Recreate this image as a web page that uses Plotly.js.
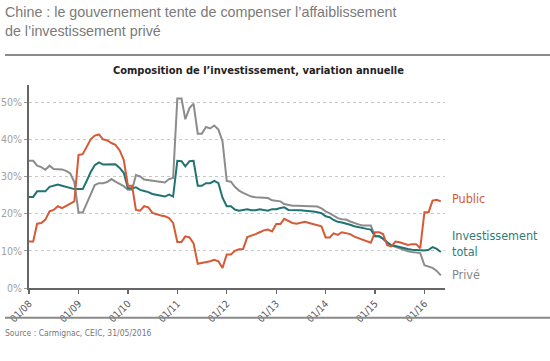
<!DOCTYPE html>
<html>
<head>
<meta charset="utf-8">
<script src="https://cdn.plot.ly/plotly-3.0.1.min.js"></script>
<style>
html,body{margin:0;padding:0;background:#fff;}
#chart{width:550px;height:361px;}
</style>
</head>
<body>
<div id="chart"></div>
<script>
// Monthly dates Jan 2008 -> May 2016
var months = [
 '2008-01-01','2008-02-01','2008-03-01','2008-04-01','2008-05-01','2008-06-01','2008-07-01','2008-08-01','2008-09-01','2008-10-01','2008-11-01','2008-12-01',
 '2009-01-01','2009-02-01','2009-03-01','2009-04-01','2009-05-01','2009-06-01','2009-07-01','2009-08-01','2009-09-01','2009-10-01','2009-11-01','2009-12-01',
 '2010-01-01','2010-02-01','2010-03-01','2010-04-01','2010-05-01','2010-06-01','2010-07-01','2010-08-01','2010-09-01','2010-10-01','2010-11-01','2010-12-01',
 '2011-01-01','2011-02-01','2011-03-01','2011-04-01','2011-05-01','2011-06-01','2011-07-01','2011-08-01','2011-09-01','2011-10-01','2011-11-01','2011-12-01',
 '2012-01-01','2012-02-01','2012-03-01','2012-04-01','2012-05-01','2012-06-01','2012-07-01','2012-08-01','2012-09-01','2012-10-01','2012-11-01','2012-12-01',
 '2013-01-01','2013-02-01','2013-03-01','2013-04-01','2013-05-01','2013-06-01','2013-07-01','2013-08-01','2013-09-01','2013-10-01','2013-11-01','2013-12-01',
 '2014-01-01','2014-02-01','2014-03-01','2014-04-01','2014-05-01','2014-06-01','2014-07-01','2014-08-01','2014-09-01','2014-10-01','2014-11-01','2014-12-01',
 '2015-01-01','2015-02-01','2015-03-01','2015-04-01','2015-05-01','2015-06-01','2015-07-01','2015-08-01','2015-09-01','2015-10-01','2015-11-01','2015-12-01',
 '2016-01-01','2016-02-01','2016-03-01','2016-04-01','2016-05-01'
];

var publicInv = [
 12.5,12.5,17.3,17.5,18.4,20.6,21.0,22.0,21.5,22.0,22.7,23.3,
 35.8,36.0,38.0,40.0,41.0,41.3,40.0,39.7,39.0,38.5,37.0,34.5,
 27.5,27.5,21.0,20.8,22.0,21.7,20.2,19.8,19.5,19.3,18.8,17.5,
 12.4,12.4,13.9,13.6,12.0,6.5,6.7,6.9,7.2,7.6,7.2,5.4,
 9.0,9.0,10.0,10.4,10.5,13.7,14.0,14.5,15.0,15.5,15.7,15.2,
 17.2,17.2,18.6,18.0,17.5,17.3,17.5,17.8,17.5,17.2,16.8,16.6,
 13.6,13.6,14.7,14.3,15.0,14.7,14.5,13.8,13.4,13.0,12.6,12.2,
 15.0,15.0,14.5,11.5,11.2,12.5,12.3,12.0,11.6,11.8,11.8,10.7,
 20.4,20.4,23.5,23.7,23.3
];

var totalInv = [
 24.5,24.5,26.0,26.0,26.0,27.2,27.5,27.8,27.5,27.2,26.8,26.6,
 26.6,26.6,28.7,31.2,33.0,33.8,33.2,33.3,33.3,33.3,32.3,31.0,
 26.8,26.8,27.1,26.4,26.1,25.8,25.3,25.0,24.8,24.6,25.1,24.6,
 34.2,34.1,32.7,34.1,34.2,27.5,27.5,28.2,28.2,28.8,28.2,24.3,
 22.0,22.0,21.1,20.8,21.0,21.2,20.9,20.9,21.2,21.0,20.8,21.2,
 21.2,21.5,21.7,21.0,20.9,20.9,20.9,20.8,20.8,20.6,20.4,20.1,
 19.3,19.0,18.3,17.8,17.6,17.4,17.0,16.6,16.3,16.1,15.9,15.7,
 13.9,13.9,13.3,12.3,11.5,11.3,11.0,10.9,10.5,10.3,10.2,10.0,
 10.1,10.3,11.0,10.5,9.7
];

var privateInv = [
 34.2,34.2,32.9,32.5,31.8,32.9,32.0,32.0,31.9,31.5,30.8,28.5,
 20.3,20.3,22.6,25.0,27.7,28.2,28.2,28.5,29.3,28.6,28.0,27.4,
 26.4,26.4,30.4,30.0,29.2,29.0,28.9,28.7,28.6,28.4,29.3,29.6,
 51.0,51.0,45.4,48.4,49.6,41.5,41.5,43.3,42.9,43.7,42.6,39.4,
 28.8,28.6,27.2,26.2,25.6,25.0,24.6,24.4,24.4,24.3,24.2,23.6,
 23.4,23.3,22.6,22.3,22.1,22.1,22.1,22.1,22.1,22.1,21.9,21.4,
 20.6,20.1,19.4,18.8,18.5,18.4,17.9,17.6,17.1,16.8,16.8,16.8,
 13.9,13.9,13.2,12.2,11.5,11.1,10.5,10.2,9.9,9.7,9.6,9.4,
 6.1,5.8,5.4,4.6,3.4
];

var tickVals = ['2008-01-01','2009-01-01','2010-01-01','2011-01-01','2012-01-01','2013-01-01','2014-01-01','2015-01-01','2016-01-01'];
var tickText = ['01/08','01/09','01/10','01/11','01/12','01/13','01/14','01/15','01/16'];
var yTickVals = [0,10,20,30,40,50];
var yTickText = ['0%','10%','20%','30%','40%','50%'];

var seriesNames = ['Privé','Investissement total','Public'];
var colPublic = '#d55a35', colTotal = '#217373', colPrivate = '#8c8c8c';

var narrow = '"DejaVu Sans Condensed", "Liberation Sans Narrow", sans-serif';

var traces = [
  {x: months, y: privateInv, name: seriesNames[0], type: 'scatter', mode: 'lines', line: {color: colPrivate, width: 2}},
  {x: months, y: totalInv, name: seriesNames[1], type: 'scatter', mode: 'lines', line: {color: colTotal, width: 2}},
  {x: months, y: publicInv, name: seriesNames[2], type: 'scatter', mode: 'lines', line: {color: colPublic, width: 2}}
];

// plot area: x 29..445, y 85..288.3  (height 203.3)
function py(pix) { return (288.3 - pix) / 203.3; }
function px(pix) { return (pix - 29) / 416; }

var layout = {
  width: 550, height: 361,
  margin: {l: 29, r: 105, t: 85, b: 73, pad: 0},
  paper_bgcolor: '#fff', plot_bgcolor: '#fff',
  showlegend: false,
  font: {family: narrow, color: '#888'},
  xaxis: {
    type: 'date',
    range: ['2008-01-01', '2016-06-01'],
    tickvals: tickVals, ticktext: tickText,
    tickangle: -45,
    ticks: 'outside', ticklen: 4, tickwidth: 1.5, tickcolor: '#666',
    tickfont: {family: narrow, size: 10, color: '#555'},
    showgrid: false, zeroline: false,
    showline: true, linecolor: '#666', linewidth: 2,
    automargin: false
  },
  yaxis: {
    range: [0, 54.6],
    tickvals: yTickVals, ticktext: yTickText,
    ticks: 'outside', ticklen: 3, tickwidth: 1, tickcolor: '#999',
    tickfont: {family: narrow, size: 10.5, color: '#a0a0a0'},
    showgrid: true, gridcolor: '#c8c8c8', griddash: 'dot', gridwidth: 1,
    zeroline: false,
    showline: true, linecolor: '#666', linewidth: 2,
    automargin: false
  },
  shapes: [
    {type: 'line', xref: 'paper', yref: 'paper', x0: px(5), x1: px(550), y0: py(55), y1: py(55), line: {color: '#8a8a8a', width: 2}},
    {type: 'line', xref: 'paper', yref: 'paper', x0: px(5), x1: px(550), y0: py(318), y1: py(318), line: {color: '#8a8a8a', width: 2}}
  ],
  annotations: [
    {xref: 'paper', yref: 'paper', x: px(3), y: py(21), xanchor: 'left', yanchor: 'middle', showarrow: false,
     align: 'left',
     text: 'Chine : le gouvernement tente de compenser l’affaiblissement<br>de l’investissement privé',
     font: {family: 'Liberation Sans, Arial, sans-serif', size: 14.3, color: '#7a7a7a'}},
    {xref: 'paper', yref: 'paper', x: px(258), y: py(70), xanchor: 'center', yanchor: 'middle', showarrow: false,
     text: '<b>Composition de l’investissement, variation annuelle</b>',
     font: {family: narrow, size: 11, color: '#222'}},
    {xref: 'paper', yref: 'paper', x: px(3), y: py(333), xanchor: 'left', yanchor: 'middle', showarrow: false,
     text: 'Source : Carmignac, CEIC, 31/05/2016',
     font: {family: narrow, size: 8.5, color: '#777'}},
    {xref: 'paper', yref: 'paper', x: px(450), y: py(199), xanchor: 'left', yanchor: 'middle', showarrow: false,
     text: 'Public', font: {family: narrow, size: 12.5, color: colPublic}},
    {xref: 'paper', yref: 'paper', x: px(450), y: py(243.5), xanchor: 'left', yanchor: 'middle', showarrow: false,
     align: 'left',
     text: 'Investissement<br>total', font: {family: narrow, size: 12.5, color: '#2f7c7c'}},
    {xref: 'paper', yref: 'paper', x: px(450), y: py(275), xanchor: 'left', yanchor: 'middle', showarrow: false,
     text: 'Privé', font: {family: narrow, size: 12.5, color: '#888'}}
  ]
};

Plotly.newPlot('chart', traces, layout, {displayModeBar: false, staticPlot: true});
</script>
</body>
</html>
